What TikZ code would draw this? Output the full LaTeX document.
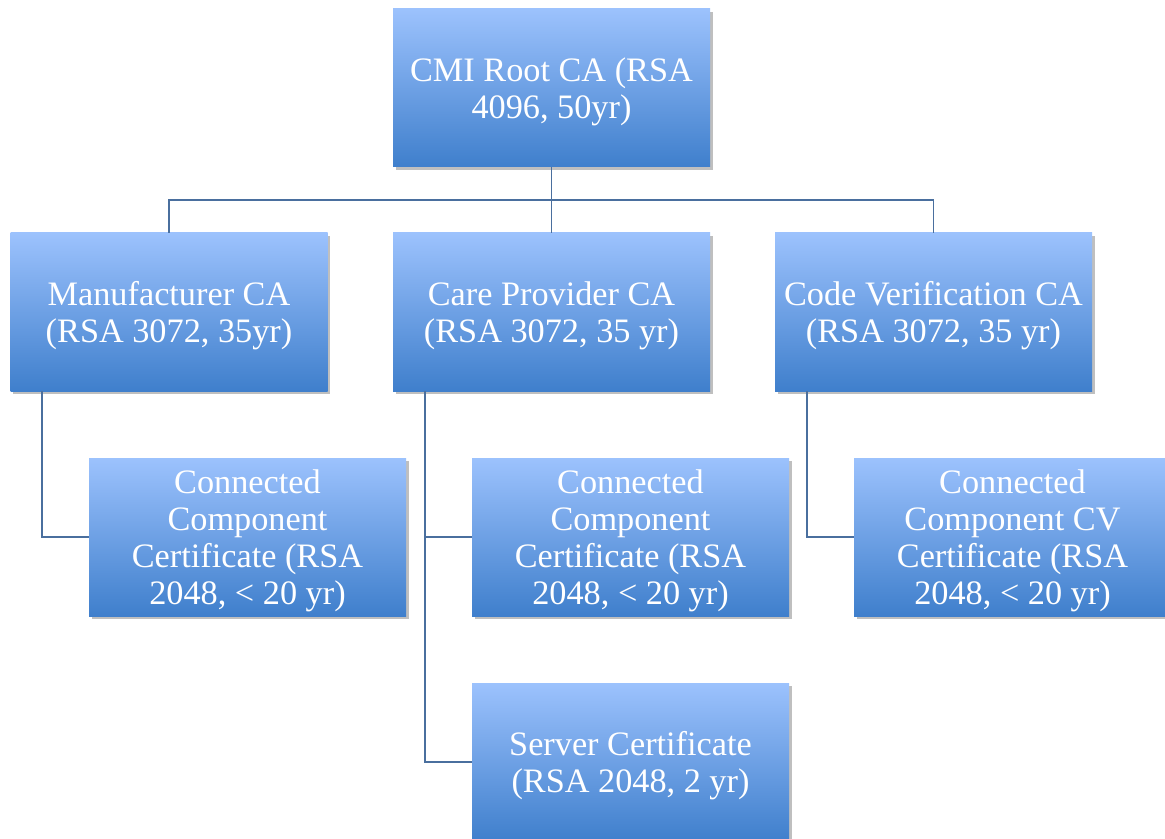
\documentclass[tikz,border=0pt]{standalone}
\usepackage{fontspec}
\setmainfont{Liberation Serif}
\usepackage{tikz}
\usetikzlibrary{positioning,shadows}
\definecolor{boxtop}{HTML}{9CC2FD}
\definecolor{boxbot}{HTML}{3F7FCC}
\definecolor{wire}{HTML}{4A6F9E}
\tikzset{
  certbox/.style={rectangle, minimum width=6.34cm, minimum height=3.16cm,
    top color=boxtop, bottom color=boxbot, text=white, align=center,
    font=\fontsize{19.5}{21}\selectfont, text depth=0pt,
    drop shadow={shadow xshift=1.5pt, shadow yshift=-1.5pt, opacity=0.25, fill=black}},
  wireline/.style={draw=wire, line width=1.1pt},
}
\begin{document}
\begin{tikzpicture}
        \useasboundingbox (0,0) rectangle (23.3,-16.78);
        \fill[white] (0,0) rectangle (23.3,-16.78);
        % top row
        \node[certbox] (root) at (11.03,-1.76) {CMI Root CA (RSA\\4096, 50yr)};
        % CA row
        \node[certbox] (man) at (3.38,-6.24) {Manufacturer CA\\(RSA 3072, 35yr)};
        \node[certbox] (care) at (11.03,-6.24) {Care Provider CA\\(RSA 3072, 35 yr)};
        \node[certbox] (code) at (18.67,-6.24) {Code Verification CA\\(RSA 3072, 35 yr)};
        % leaf certificates
        \node[certbox] (cc1) at (4.95,-10.74) {Connected\\Component\\Certificate (RSA\\2048, < 20 yr)};
        \node[certbox] (cc2) at (12.61,-10.74) {Connected\\Component\\Certificate (RSA\\2048, < 20 yr)};
        \node[certbox] (cc3) at (20.25,-10.74) {Connected\\Component CV\\Certificate (RSA\\2048, < 20 yr)};
        \node[certbox] (srv) at (12.61,-15.24) {Server Certificate\\(RSA 2048, 2 yr)};
        % wires
        \coordinate (bus) at (11.03,-4.0);
        \draw[wireline] (root.south) -- (bus) -- (care.north);
        \draw[wireline] (man.north) |- (bus) -| (code.north);
        \draw[wireline] ([xshift=0.64cm]man.south west) |- (cc1.west);
        \draw[wireline] ([xshift=0.64cm]care.south west) |- (cc2.west);
        \draw[wireline] ([xshift=0.64cm]care.south west) |- (srv.west);
        \draw[wireline] ([xshift=0.64cm]code.south west) |- (cc3.west);
\end{tikzpicture}
\end{document}
